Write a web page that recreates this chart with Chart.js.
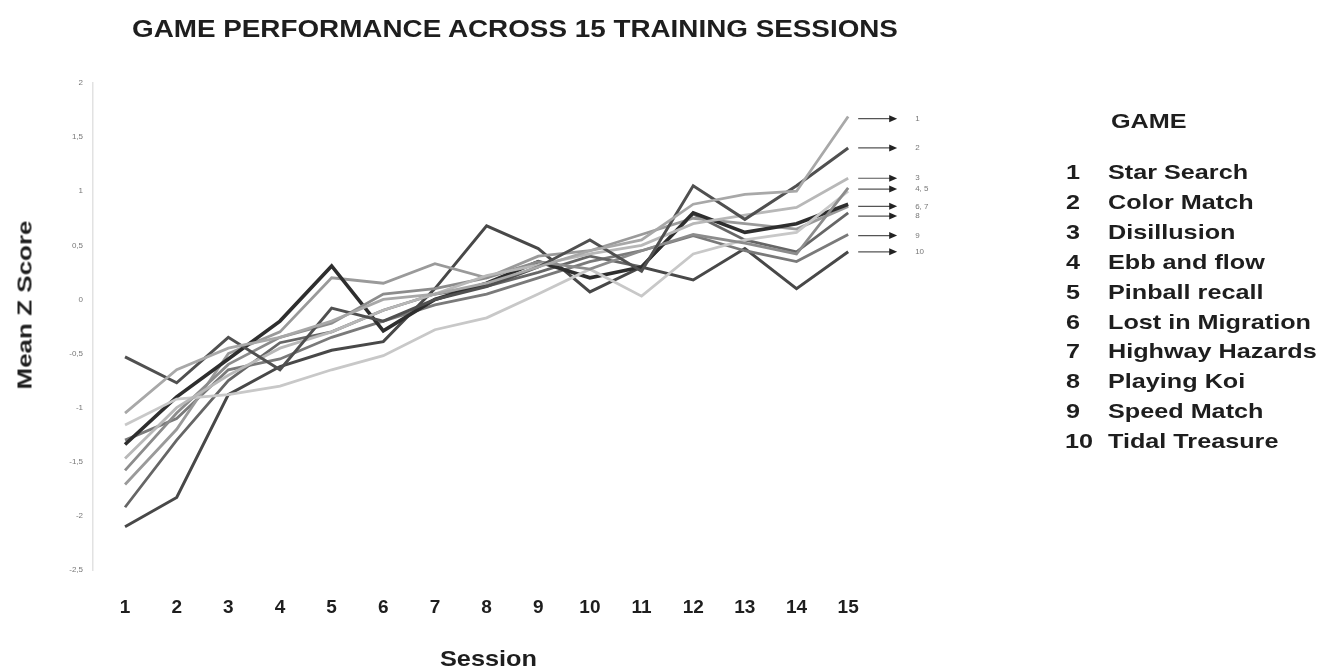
<!DOCTYPE html>
<html>
<head>
<meta charset="utf-8">
<title>Game Performance</title>
<script src="https://cdn.jsdelivr.net/npm/chart.js@4.4.0/dist/chart.umd.min.js"></script>
<style>
  body { margin: 0; background: #fff; font-family: "Liberation Sans", Arial, sans-serif; }
  #wrap { position: relative; width: 1327px; height: 670px; }
  #chart { position: absolute; left: 0; top: 0; }
  .txt { position: absolute; font-weight: bold; color: #1e1e1e; white-space: nowrap; transform-origin: left center; }
  .legend-row { position: absolute; font-weight: bold; color: #1e1e1e; font-size: 21px; white-space: nowrap; transform-origin: left center; transform: scaleX(1.2); }
</style>
</head>
<body>
<div id="wrap">
  <canvas id="chart" width="1327" height="670"></canvas>
  <div class="txt" style="left:132px; top:16px; font-size:23px; transform:scaleX(1.21);">GAME PERFORMANCE ACROSS 15 TRAINING SESSIONS</div>
  <div class="txt" style="left:440px; top:646px; font-size:22px; transform:scaleX(1.15);">Session</div>
  <div class="txt" style="left:25px; top:305px; font-size:20px; transform-origin:center; transform:translate(-50%,-50%) rotate(-90deg) scaleX(1.3);">Mean Z Score</div>
  <div class="txt" style="left:1111px; top:109px; font-size:21px; transform:scaleX(1.2);">GAME</div>
  <div id="legend"></div>
</div>

<script>
// Sessions on the x axis
const sessions = [1, 2, 3, 4, 5, 6, 7, 8, 9, 10, 11, 12, 13, 14, 15];

// Mean Z score per game
const starSearch      = [-1.05, -0.65, -0.45, -0.35, -0.2, 0.0, 0.05, 0.15, 0.3, 0.45, 0.55, 0.88, 0.97, 1.0, 1.69];
const colorMatch      = [-0.53, -0.77, -0.35, -0.65, -0.08, -0.2, 0.0, 0.12, 0.3, 0.55, 0.26, 1.05, 0.74, 1.05, 1.40];
const disillusion     = [-1.47, -1.0, -0.7, -0.45, -0.3, -0.1, 0.05, 0.22, 0.32, 0.42, 0.5, 0.7, 0.78, 0.85, 1.12];
const ebbAndFlow      = [-1.58, -1.05, -0.6, -0.35, -0.22, 0.05, 0.1, 0.2, 0.35, 0.28, 0.45, 0.6, 0.52, 0.42, 1.03];
const pinballRecall   = [-1.16, -0.92, -0.88, -0.8, -0.65, -0.52, -0.28, -0.17, 0.05, 0.28, 0.03, 0.42, 0.55, 0.62, 1.0];
const lostInMigration = [-1.34, -0.9, -0.55, -0.2, 0.31, -0.29, 0.0, 0.15, 0.35, 0.2, 0.3, 0.8, 0.62, 0.7, 0.88];
const highwayHazards  = [-1.71, -1.2, -0.5, -0.3, 0.2, 0.15, 0.33, 0.2, 0.4, 0.45, 0.6, 0.75, 0.7, 0.65, 0.86];
const playingKoi      = [-1.92, -1.3, -0.75, -0.4, -0.3, -0.1, 0.05, 0.12, 0.25, 0.4, 0.3, 0.79, 0.55, 0.44, 0.8];
const speedMatch      = [-1.3, -1.1, -0.65, -0.55, -0.35, -0.2, -0.05, 0.05, 0.2, 0.35, 0.45, 0.59, 0.45, 0.35, 0.6];
const tidalTreasure   = [-2.1, -1.83, -0.88, -0.62, -0.47, -0.39, 0.1, 0.68, 0.47, 0.07, 0.3, 0.18, 0.47, 0.1, 0.44];

const gameNames = ['Star Search', 'Color Match', 'Disillusion', 'Ebb and flow', 'Pinball recall',
  'Lost in Migration', 'Highway Hazards', 'Playing Koi', 'Speed Match', 'Tidal Treasure'];

// Y tick values and their printed labels (comma decimals)
const yTicks = [2, 1.5, 1, 0.5, 0, -0.5, -1, -1.5, -2, -2.5];
const yTickLabels = ['2', '1,5', '1', '0,5', '0', '-0,5', '-1', '-1,5', '-2', '-2,5'];

// Arrow markers on the right side
const arrowLabels = ['1', '2', '3', '4, 5', '6, 7', '8', '9', '10'];
const arrowValues = [1.67, 1.40, 1.12, 1.02, 0.86, 0.77, 0.59, 0.44];

// Greys for the lines
const lineColors = ['#a8a8a8', '#505050', '#b8b8b8', '#8c8c8c', '#c8c8c8',
  '#2e2e2e', '#9a9a9a', '#666666', '#7a7a7a', '#484848'];
const lineWidths = [2.8, 3, 2.8, 2.8, 2.8, 3.6, 2.8, 2.8, 2.8, 3];

// Legend on the right
const legend = document.getElementById('legend');
gameNames.forEach(function (name, i) {
  const top = 160 + i * 29.9;
  const num = document.createElement('div');
  num.className = 'legend-row';
  num.style.left = (i === 9 ? 1065 : 1066) + 'px';
  num.style.top = top + 'px';
  num.textContent = String(i + 1);
  legend.appendChild(num);
  const label = document.createElement('div');
  label.className = 'legend-row';
  label.style.left = '1108px';
  label.style.top = top + 'px';
  label.textContent = name;
  legend.appendChild(label);
});

// Draws the little arrows and numbers beyond session 15
const arrowPlugin = {
  id: 'endArrows',
  afterDatasetsDraw(chart) {
    const ctx = chart.ctx;
    const xs = chart.scales.x;
    const ys = chart.scales.y;
    const x0 = xs.getPixelForValue(15) + 10;
    ctx.save();
    arrowValues.forEach(function (v, i) {
      const y = ys.getPixelForValue(v);
      ctx.strokeStyle = '#555';
      ctx.lineWidth = 1.2;
      ctx.beginPath();
      ctx.moveTo(x0, y);
      ctx.lineTo(x0 + 33, y);
      ctx.stroke();
      ctx.fillStyle = '#222';
      ctx.beginPath();
      ctx.moveTo(x0 + 31, y - 3.5);
      ctx.lineTo(x0 + 39, y);
      ctx.lineTo(x0 + 31, y + 3.5);
      ctx.closePath();
      ctx.fill();
      ctx.fillStyle = '#777';
      ctx.font = '8px "Liberation Sans", Arial, sans-serif';
      ctx.textBaseline = 'middle';
      ctx.fillText(arrowLabels[i], x0 + 57, y);
    });
    ctx.restore();
  }
};

const ctx = document.getElementById('chart').getContext('2d');
new Chart(ctx, {
  type: 'line',
  data: {
    labels: sessions,
    datasets: [starSearch, colorMatch, disillusion, ebbAndFlow, pinballRecall,
      lostInMigration, highwayHazards, playingKoi, speedMatch, tidalTreasure].map(function (d, i) {
      return {
        label: gameNames[i],
        data: d,
        borderColor: lineColors[i],
        borderWidth: lineWidths[i],
        pointRadius: 0,
        tension: 0,
        fill: false
      };
    })
  },
  options: {
    responsive: false,
    animation: false,
    layout: { padding: { left: 0, right: 453, top: 83, bottom: 0 } },
    plugins: { legend: { display: false }, tooltip: { enabled: false } },
    scales: {
      x: {
        type: 'linear',
        min: 0.38,
        max: 15.5,
        grid: { display: false, drawTicks: false },
        border: { display: false },
        afterBuildTicks: function (scale) {
          scale.ticks = sessions.map(function (v) { return { value: v }; });
        },
        afterFit: function (scale) { scale.height = 100; },
        ticks: {
          padding: 26,
          color: '#1e1e1e',
          font: { size: 19, weight: 'bold', family: '"Liberation Sans", Arial, sans-serif' },
          callback: function (v) { return String(v); }
        }
      },
      y: {
        min: -2.5,
        max: 2,
        grid: { display: false, drawTicks: false },
        border: { display: true, color: '#e2e2e2', width: 1.5 },
        afterBuildTicks: function (scale) {
          scale.ticks = yTicks.map(function (v) { return { value: v }; });
        },
        afterFit: function (scale) { scale.width = 93; },
        ticks: {
          padding: 10,
          color: '#777',
          font: { size: 8, family: '"Liberation Sans", Arial, sans-serif' },
          callback: function (v) {
            const i = yTicks.indexOf(v);
            return i >= 0 ? yTickLabels[i] : '';
          }
        }
      }
    }
  },
  plugins: [arrowPlugin]
});
</script>
</body>
</html>
